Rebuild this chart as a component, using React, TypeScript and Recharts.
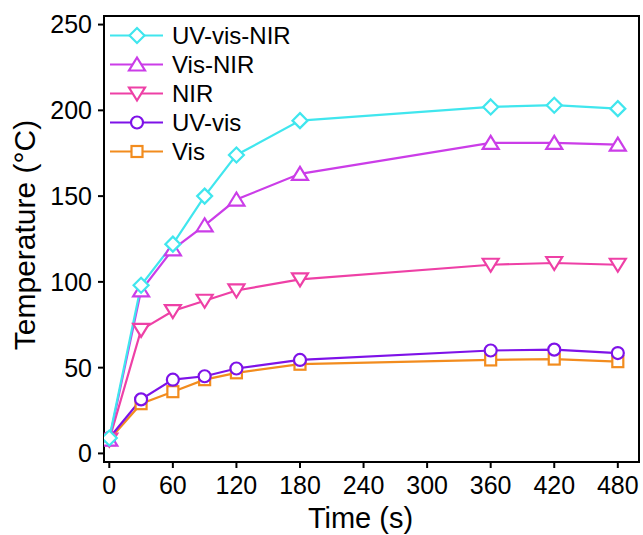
import React from 'react';
import { LineChart, Line, XAxis, YAxis, Legend, ReferenceArea, Label } from 'recharts';

// heating curves, temperature in °C sampled at these times (s)
const timeS = [0, 30, 60, 90, 120, 180, 360, 420, 480];
const uvVisNir = [9, 98, 122, 150, 174, 194, 202, 203, 201];
const visNir = [8, 95, 119, 133, 148, 163, 181, 181, 180];
const nir = [8, 72, 83, 89, 95, 101.5, 110, 111, 110];
const uvVis = [9, 31.5, 43, 45, 49.5, 54.5, 60, 60.5, 58.5];
const vis = [8, 29, 36, 43, 47, 52, 54.5, 55, 53.5];

const xTicks = [0, 60, 120, 180, 240, 300, 360, 420, 480];
const yTicks = [0, 50, 100, 150, 200, 250];

type MarkerKind = 'diamond' | 'triangleUp' | 'triangleDown' | 'circle' | 'square';

interface Series {
  key: string;
  name: string;
  color: string;
  marker: MarkerKind;
  values: number[];
}

// drawing order: last one ends up on top
const series: Series[] = [
  { key: 'vis', name: 'Vis', color: '#F28C1E', marker: 'square', values: vis },
  { key: 'uvVis', name: 'UV-vis', color: '#7E12E8', marker: 'circle', values: uvVis },
  { key: 'nir', name: 'NIR', color: '#EE40A6', marker: 'triangleDown', values: nir },
  { key: 'visNir', name: 'Vis-NIR', color: '#CB3DE8', marker: 'triangleUp', values: visNir },
  { key: 'uvVisNir', name: 'UV-vis-NIR', color: '#40E6EE', marker: 'diamond', values: uvVisNir },
];

const data = timeS.map((t, i) => {
  const row: Record<string, number> = { t };
  series.forEach((s) => {
    row[s.key] = s.values[i];
  });
  return row;
});

const FONT = 'Arial, "Liberation Sans", sans-serif';

const Marker = ({ kind, cx, cy, color }: { kind: MarkerKind; cx: number; cy: number; color: string }) => {
  const common = { fill: '#fff', stroke: color, strokeWidth: 2.2 };
  switch (kind) {
    case 'diamond':
      return <polygon points={`${cx},${cy - 7.5} ${cx + 7.5},${cy} ${cx},${cy + 7.5} ${cx - 7.5},${cy}`} {...common} />;
    case 'triangleUp':
      return <polygon points={`${cx},${cy - 7} ${cx + 8},${cy + 6} ${cx - 8},${cy + 6}`} {...common} />;
    case 'triangleDown':
      return <polygon points={`${cx},${cy + 7} ${cx + 8},${cy - 6} ${cx - 8},${cy - 6}`} {...common} />;
    case 'circle':
      return <circle cx={cx} cy={cy} r={6} {...common} />;
    default:
      return <rect x={cx - 5.5} y={cy - 5.5} width={11} height={11} {...common} />;
  }
};

const makeDot = (s: Series) => (props: any) => {
  const { cx, cy, index } = props;
  if (cx == null || cy == null) return <g key={`${s.key}-${index}`} />;
  return (
    <g key={`${s.key}-${index}`}>
      <Marker kind={s.marker} cx={cx} cy={cy} color={s.color} />
    </g>
  );
};

const LegendContent = () => (
  <div style={{ fontFamily: FONT }}>
    {[...series].reverse().map((s) => (
      <div key={s.key} style={{ display: 'flex', alignItems: 'center', height: 29 }}>
        <svg width={62} height={29} style={{ display: 'block' }}>
          <line x1={0} y1={14.5} x2={53} y2={14.5} stroke={s.color} strokeWidth={2.2} />
          <Marker kind={s.marker} cx={27} cy={14.5} color={s.color} />
        </svg>
        <span style={{ fontSize: 24, color: '#000', lineHeight: '29px', whiteSpace: 'nowrap' }}>{s.name}</span>
      </div>
    ))}
  </div>
);

export default function App() {
  return (
    <div style={{ position: 'absolute', left: 0, top: 0, width: 643, height: 535, background: '#fff', fontFamily: FONT }}>
      <LineChart width={643} height={535} data={data} margin={{ top: 16, right: 4, left: 0, bottom: 0 }}>
        <XAxis
          dataKey="t"
          type="number"
          domain={[-5, 500]}
          ticks={xTicks}
          allowDataOverflow
          height={73}
          tickSize={6}
          tickMargin={8}
          axisLine={{ stroke: '#000', strokeWidth: 2 }}
          tickLine={{ stroke: '#000', strokeWidth: 2 }}
          tick={{ fontSize: 25, fill: '#000', fontFamily: FONT }}
        >
          <Label
            content={(props: any) => {
              const vb = props.viewBox || { x: 0, y: 0, width: 0, height: 0 };
              return (
                <text x={vb.x + vb.width / 2 - 11} y={vb.y + 66} textAnchor="middle" fontSize={29} fill="#000" fontFamily={FONT}>
                  Time (s)
                </text>
              );
            }}
          />
        </XAxis>
        <YAxis
          type="number"
          domain={[-5, 255]}
          ticks={yTicks}
          allowDataOverflow
          width={104}
          tickSize={6}
          tickMargin={6}
          axisLine={{ stroke: '#000', strokeWidth: 2 }}
          tickLine={{ stroke: '#000', strokeWidth: 2 }}
          tick={{ fontSize: 25, fill: '#000', fontFamily: FONT }}
        >
          <Label
            content={(props: any) => {
              const vb = props.viewBox || { x: 0, y: 0, width: 0, height: 0 };
              const x = vb.x + 35;
              const y = vb.y + vb.height / 2 - 4;
              return (
                <text x={x} y={y} transform={`rotate(-90, ${x}, ${y})`} textAnchor="middle" fontSize={30} fill="#000" fontFamily={FONT}>
                  Temperature (°C)
                </text>
              );
            }}
          />
        </YAxis>
        <ReferenceArea x1={-5} x2={500} y1={-5} y2={255} fill="none" stroke="#000" strokeWidth={2} ifOverflow="visible" />
        <Legend
          layout="vertical"
          align="center"
          verticalAlign="middle"
          content={<LegendContent />}
          wrapperStyle={{ left: 110, top: 20.5, width: 'auto', height: 'auto' }}
        />
        {series.map((s) => (
          <Line
            key={s.key}
            type="linear"
            dataKey={s.key}
            name={s.name}
            stroke={s.color}
            strokeWidth={2.2}
            dot={makeDot(s)}
            activeDot={false}
            isAnimationActive={false}
          />
        ))}
      </LineChart>
    </div>
  );
}
